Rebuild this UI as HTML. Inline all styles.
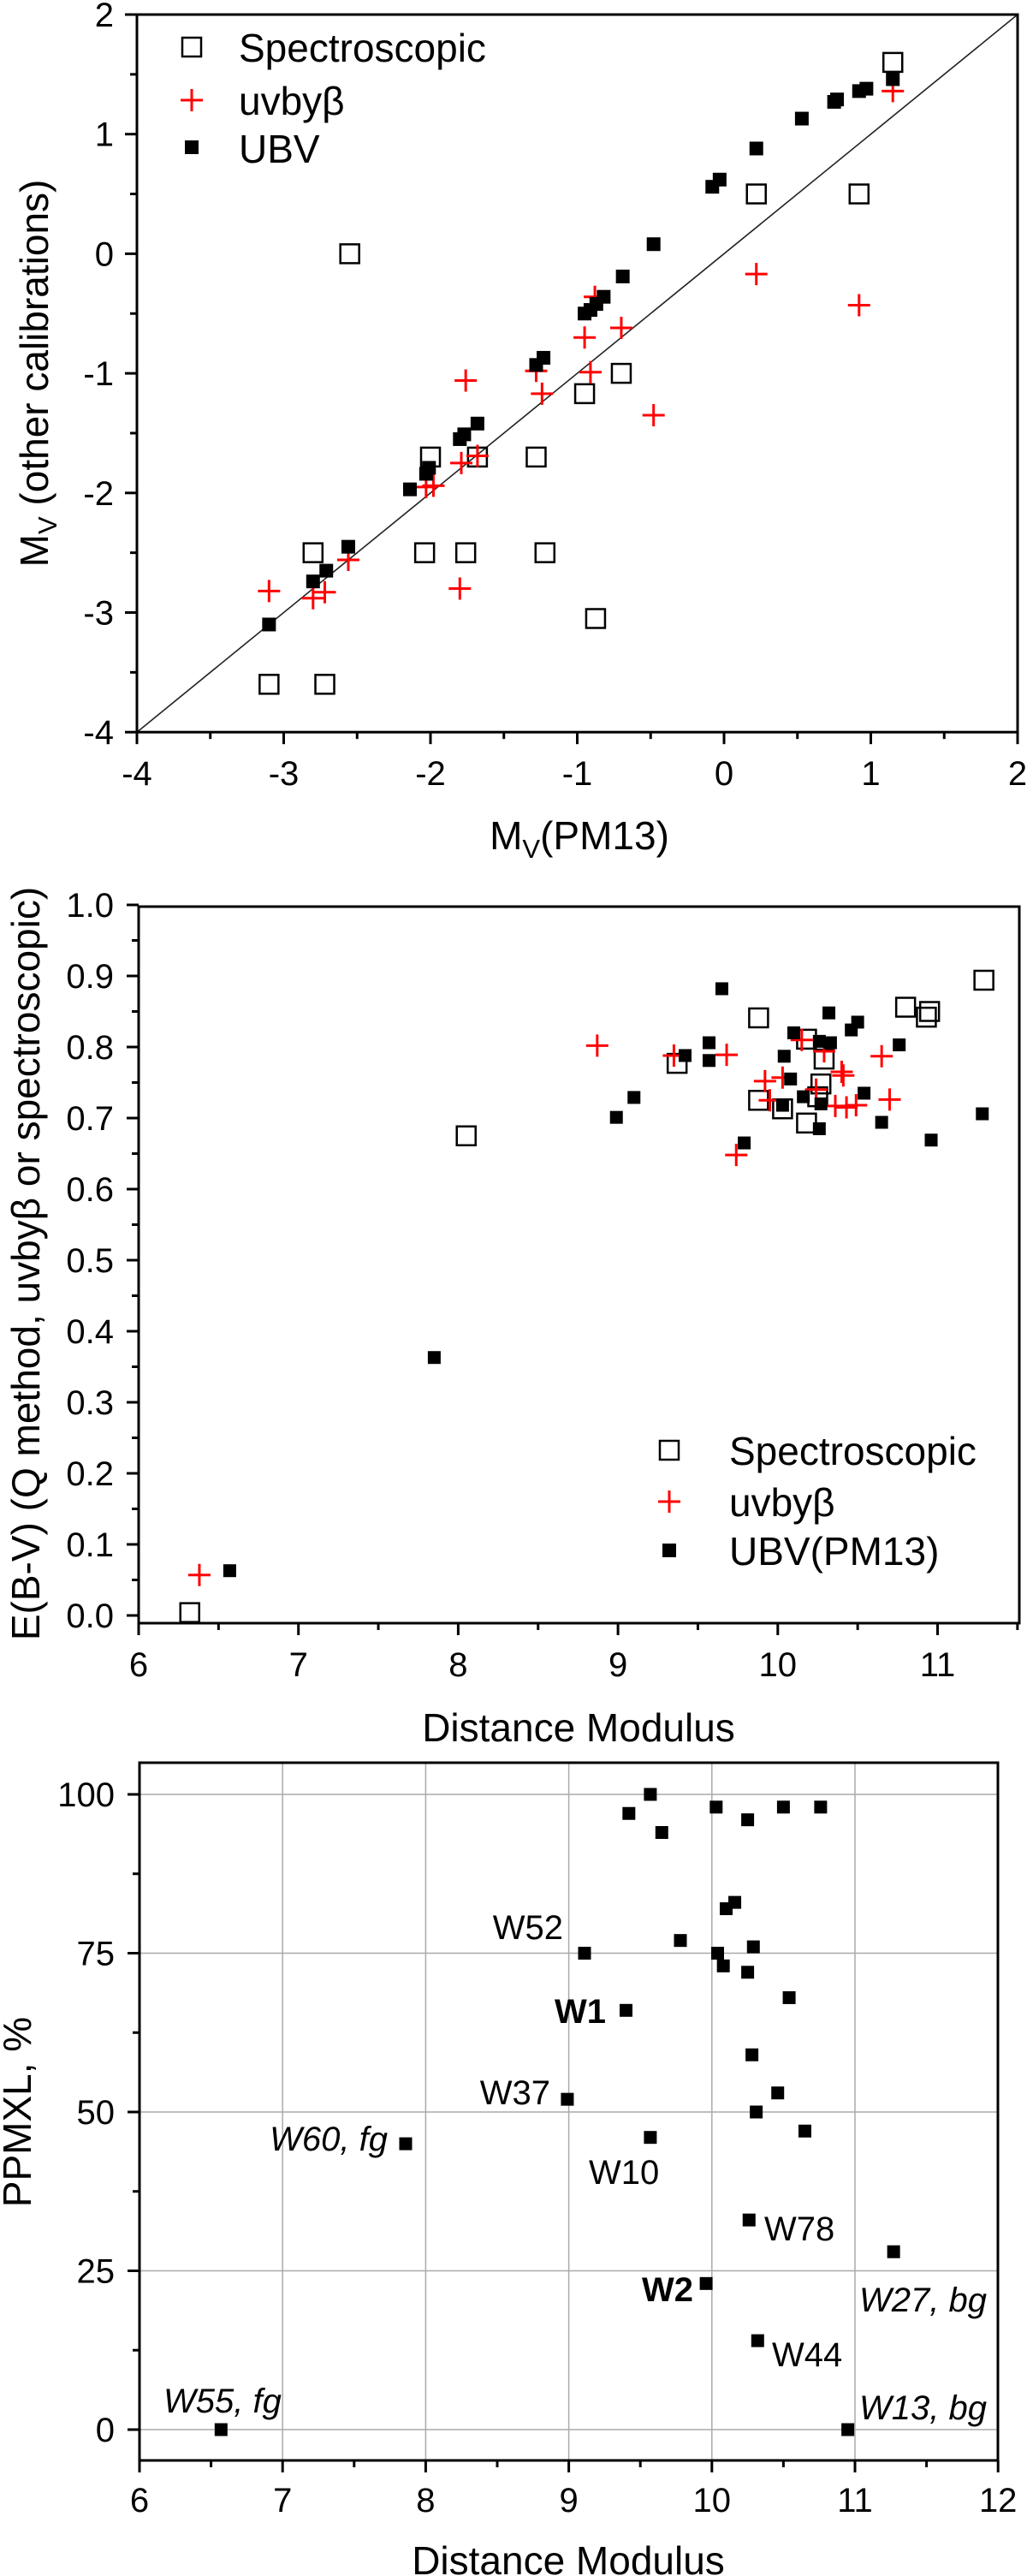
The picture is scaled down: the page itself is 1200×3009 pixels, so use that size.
<!DOCTYPE html>
<html><head><meta charset="utf-8">
<style>
html,body{margin:0;padding:0;background:#fff;}
svg{display:block;font-family:"Liberation Sans",Arial,sans-serif;}
</style></head>
<body>
<svg id="fig" width="1200" height="3009" viewBox="0 0 1200 3009" xmlns="http://www.w3.org/2000/svg">
<g id="p1"></g>
<g id="p2"></g>
<g id="p3"></g>
</svg>
<script>
// ---------- Panel 1 data ----------
const p1SpecX=[-2.55,-2.00,-1.68,-1.28,-2.80,-2.04,-1.76,-1.22,-3.10,-2.72,-0.875,1.15,0.92,0.22,-0.70,-0.95];
const p1SpecY=[0.0,-1.70,-1.70,-1.70,-2.50,-2.50,-2.50,-2.50,-3.60,-3.60,-3.05,1.60,0.50,0.50,-1.00,-1.17];
const p1UvbyX=[-1.79,-1.68,-2.03,-1.98,-2.56,-3.10,-2.80,-2.72,-1.80,-1.76,-1.28,-1.24,-0.91,-0.95,-0.70,-0.88,-0.48,0.22,0.92,1.15];
const p1UvbyY=[-1.75,-1.69,-1.95,-1.94,-2.56,-2.82,-2.88,-2.83,-2.80,-1.06,-0.98,-1.17,-0.99,-0.70,-0.62,-0.36,-1.35,-0.17,-0.43,1.36];
const p1UbvX=[-1.68,-1.77,-1.80,-2.01,-2.03,-2.14,-2.56,-2.71,-2.80,-3.10,-1.23,-1.28,-0.95,-0.91,-0.87,-0.82,-0.69,-0.48,-0.08,-0.03,0.22,0.53,0.75,0.77,0.92,0.97,1.15];
const p1UbvY=[-1.42,-1.51,-1.55,-1.79,-1.84,-1.97,-2.45,-2.65,-2.74,-3.10,-0.87,-0.93,-0.50,-0.47,-0.42,-0.36,-0.19,0.08,0.56,0.62,0.88,1.13,1.27,1.29,1.36,1.38,1.46];
const p1Ticks=[-4,-3,-2,-1,0,1,2];
// ---------- Panel 2 data ----------
const p2SpecX=[6.32,8.05,9.37,9.88,9.88,10.03,10.18,10.18,10.25,10.27,10.29,10.80,10.93,10.95,11.29];
const p2SpecY=[0.004,0.675,0.777,0.841,0.725,0.713,0.811,0.693,0.73,0.748,0.783,0.856,0.842,0.850,0.894];
const p2UvbyX=[6.38,8.87,9.35,9.68,9.74,9.92,9.95,10.03,10.15,10.24,10.29,10.36,10.40,10.41,10.43,10.49,10.65,10.70];
const p2UvbyY=[0.057,0.802,0.788,0.789,0.648,0.752,0.725,0.757,0.81,0.74,0.794,0.717,0.765,0.76,0.715,0.718,0.787,0.726];
const p2UbvX=[6.57,7.85,8.99,9.10,9.42,9.57,9.57,9.65,9.79,10.03,10.04,10.08,10.10,10.16,10.26,10.26,10.27,10.32,10.33,10.46,10.50,10.54,10.65,10.76,10.96,11.28];
const p2UbvY=[0.063,0.363,0.701,0.729,0.788,0.806,0.781,0.882,0.665,0.718,0.787,0.755,0.82,0.73,0.808,0.685,0.72,0.848,0.806,0.824,0.835,0.735,0.694,0.803,0.669,0.706];
const p2YTicks=[0,0.1,0.2,0.3,0.4,0.5,0.6,0.7,0.8,0.9,1.0];
const p2XTicks=[6,7,8,9,10,11];
// ---------- Panel 3 data ----------
const p3X=[9.57,9.42,9.65,10.03,10.25,10.50,10.76,10.16,10.10,9.78,9.11,10.04,10.29,10.08,10.25,10.54,9.40,10.28,10.46,10.31,10.65,9.57,8.99,7.86,10.26,11.27,9.96,10.32,10.95,6.57];
const p3Y=[100,97,94,98,96,98,98,83,82,77,75,75,76,73,72,68,66,59,53,50,47,46,52,45,33,28,23,14,0,0];
const p3Labels=["W52","W1","W37","W60, fg","W10","W78","W27, bg","W2","W44","W13, bg","W55, fg"];
const p3XTicks=[6,7,8,9,10,11,12];
const p3YTicks=[0,25,50,75,100];

const NS="http://www.w3.org/2000/svg";
const TF=40, TT=46;
function mk(parent,tag,attrs,txt){const e=document.createElementNS(NS,tag);for(const k in attrs)e.setAttribute(k,attrs[k]);if(txt!==undefined)e.textContent=txt;parent.appendChild(e);return e;}

function openSq(g,cx,cy){const e=mk(g,'rect',{x:cx-11,y:cy-11,width:22,height:22,fill:'none',stroke:'#000','stroke-width':2.5});

}
function plus(g,cx,cy){const e=mk(g,'path',{d:`M${cx-13} ${cy}H${cx+13}M${cx} ${cy-13}V${cy+13}`,stroke:'#ff0000','stroke-width':3,fill:'none'});

}
function fillSq(g,cx,cy,s){s=s||16;const e=mk(g,'rect',{x:cx-s/2,y:cy-s/2,width:s,height:s,fill:'#000'});

}

// ===== Panel 1 =====
(function(){
const g=document.getElementById('p1');
const X=v=>160+(v+4)*171.5, Y=v=>17+(2-v)*139.7;
const L=X(-4),R=X(2),T=Y(2),B=Y(-4);
mk(g,'line',{x1:X(-4),y1:Y(-4),x2:X(2),y2:Y(2),stroke:'#222','stroke-width':1.6});
for(let v=-4;v<=2.001;v+=0.5){const maj=Math.abs(v-Math.round(v))<1e-6;
 mk(g,'line',{x1:X(v),y1:B,x2:X(v),y2:B+(maj?14:8),stroke:'#000','stroke-width':3});
 mk(g,'line',{x1:L,y1:Y(v),x2:L-(maj?14:8),y2:Y(v),stroke:'#000','stroke-width':3});}
p1Ticks.forEach(v=>{
 const t=mk(g,'text',{x:X(v),y:B+62,'font-size':TF,'text-anchor':'middle'},String(v));
 
 const t2=mk(g,'text',{x:133,y:Y(v)+14,'font-size':TF,'text-anchor':'end'},String(v));
 });
const fr=mk(g,'rect',{x:L,y:T,width:R-L,height:B-T,fill:'none',stroke:'#000','stroke-width':3});

p1SpecX.forEach((v,i)=>openSq(g,X(v),Y(p1SpecY[i])));
p1UvbyX.forEach((v,i)=>plus(g,X(v),Y(p1UvbyY[i])));
p1UbvX.forEach((v,i)=>fillSq(g,X(v),Y(p1UbvY[i])));
const xt=mk(g,'text',{x:677,y:992,'font-size':TT,'text-anchor':'middle'});
xt.innerHTML='M<tspan font-size="31" dy="10">V</tspan><tspan dy="-10">(PM13)</tspan>';

const yt=mk(g,'text',{x:0,y:0,'font-size':TT,'text-anchor':'middle',transform:'translate(56,436) rotate(-90)'});
yt.innerHTML='M<tspan font-size="31" dy="10">V</tspan><tspan dy="-10"> (other calibrations)</tspan>';

const lg=mk(g,'g',{});
openSq(lg,224,55);plus(lg,224,117);fillSq(lg,224,172);
mk(lg,'text',{x:279,y:72,'font-size':TT},'Spectroscopic');
mk(lg,'text',{x:279,y:134,'font-size':TT},'uvbyβ');
mk(lg,'text',{x:279,y:190,'font-size':TT},'UBV');
})();

// ===== Panel 2 =====
(function(){
const g=document.getElementById('p2');
const X=v=>162+(v-6)*186.7, Y=v=>1887-v*830;
const L=162,R=1191,T=1059,B=1896;
for(let v=6;v<=11.5001;v+=0.5){const maj=Math.abs(v-Math.round(v))<1e-6;
 mk(g,'line',{x1:X(v),y1:B,x2:X(v),y2:B+(maj?14:8),stroke:'#000','stroke-width':3});}
for(let v=0;v<=1.0001;v+=0.05){const maj=Math.abs(v*10-Math.round(v*10))<1e-6;
 mk(g,'line',{x1:L,y1:Y(v),x2:L-(maj?14:8),y2:Y(v),stroke:'#000','stroke-width':3});}
p2XTicks.forEach(v=>{const t=mk(g,'text',{x:X(v),y:1958,'font-size':TF,'text-anchor':'middle'},String(v));
 });
p2YTicks.forEach(v=>{const t=mk(g,'text',{x:133,y:Y(v)+14,'font-size':TF,'text-anchor':'end'},v.toFixed(1));
 });
const fr=mk(g,'rect',{x:L,y:T,width:R-L,height:B-T,fill:'none',stroke:'#000','stroke-width':3});

p2SpecX.forEach((v,i)=>openSq(g,X(v),Y(p2SpecY[i])));
p2UvbyX.forEach((v,i)=>plus(g,X(v),Y(p2UvbyY[i])));
p2UbvX.forEach((v,i)=>fillSq(g,X(v),Y(p2UbvY[i]),15));
const xt=mk(g,'text',{x:676,y:2034,'font-size':TT,'text-anchor':'middle'},'Distance Modulus');

const yt=mk(g,'text',{x:0,y:0,'font-size':TT,'text-anchor':'middle',transform:'translate(46,1476) rotate(-90)'},'E(B-V) (Q method, uvbyβ or spectroscopic)');

const lg=mk(g,'g',{});
openSq(lg,782,1694);plus(lg,782,1754);fillSq(lg,782,1811);
mk(lg,'text',{x:852,y:1711,'font-size':TT},'Spectroscopic');
mk(lg,'text',{x:852,y:1771,'font-size':TT},'uvbyβ');
mk(lg,'text',{x:852,y:1828,'font-size':TT},'UBV(PM13)');
})();

// ===== Panel 3 =====
(function(){
const g=document.getElementById('p3');
const X=v=>163+(v-6)*167.2, Y=v=>2838-v*7.42;
const L=163,R=1166,T=2059,B=2874;
p3XTicks.forEach(v=>{if(v>6&&v<12){const l=mk(g,'line',{x1:X(v),y1:T,x2:X(v),y2:B,stroke:'#aaa','stroke-width':1.5});
 }});
p3YTicks.forEach(v=>{const l=mk(g,'line',{x1:L,y1:Y(v),x2:R,y2:Y(v),stroke:'#aaa','stroke-width':1.5});
 });
for(let v=6;v<=12.0001;v+=0.5){const maj=Math.abs(v-Math.round(v))<1e-6;
 mk(g,'line',{x1:X(v),y1:B,x2:X(v),y2:B+(maj?14:8),stroke:'#000','stroke-width':3});}
for(let v=0;v<=100.001;v+=12.5){const maj=Math.abs(v/25-Math.round(v/25))<1e-6;
 mk(g,'line',{x1:L,y1:Y(v),x2:L-(maj?14:8),y2:Y(v),stroke:'#000','stroke-width':3});}
p3XTicks.forEach(v=>{const t=mk(g,'text',{x:X(v),y:2934,'font-size':TF,'text-anchor':'middle'},String(v));
 });
p3YTicks.forEach(v=>{const t=mk(g,'text',{x:134,y:Y(v)+14,'font-size':TF,'text-anchor':'end'},String(v));
 });
const fr=mk(g,'rect',{x:L,y:T,width:R-L,height:B-T,fill:'none',stroke:'#000','stroke-width':3});

p3X.forEach((v,i)=>fillSq(g,X(v),Y(p3Y[i]),15));
const ann=[[0,658,2265,'end',''],[1,708,2363,'end','b'],[2,643,2458,'end',''],[3,453,2512,'end','i'],
[4,688,2551,'start',''],[5,893,2617,'start',''],[6,1004,2700,'start','i'],[7,810,2688,'end','b'],
[8,902,2764,'start',''],[9,1004,2826,'start','i'],[10,191,2818,'start','i']];
ann.forEach(a=>{const t=mk(g,'text',{x:a[1],y:a[2],'font-size':TF,'text-anchor':a[3],
 'font-weight':a[4]==='b'?'bold':'normal','font-style':a[4]==='i'?'italic':'normal'},p3Labels[a[0]]);
 });
const xt=mk(g,'text',{x:664,y:3007,'font-size':TT,'text-anchor':'middle'},'Distance Modulus');

const yt=mk(g,'text',{x:0,y:0,'font-size':TT,'text-anchor':'middle',transform:'translate(36,2467) rotate(-90)'},'PPMXL, %');

})();
</script>
</body></html>
